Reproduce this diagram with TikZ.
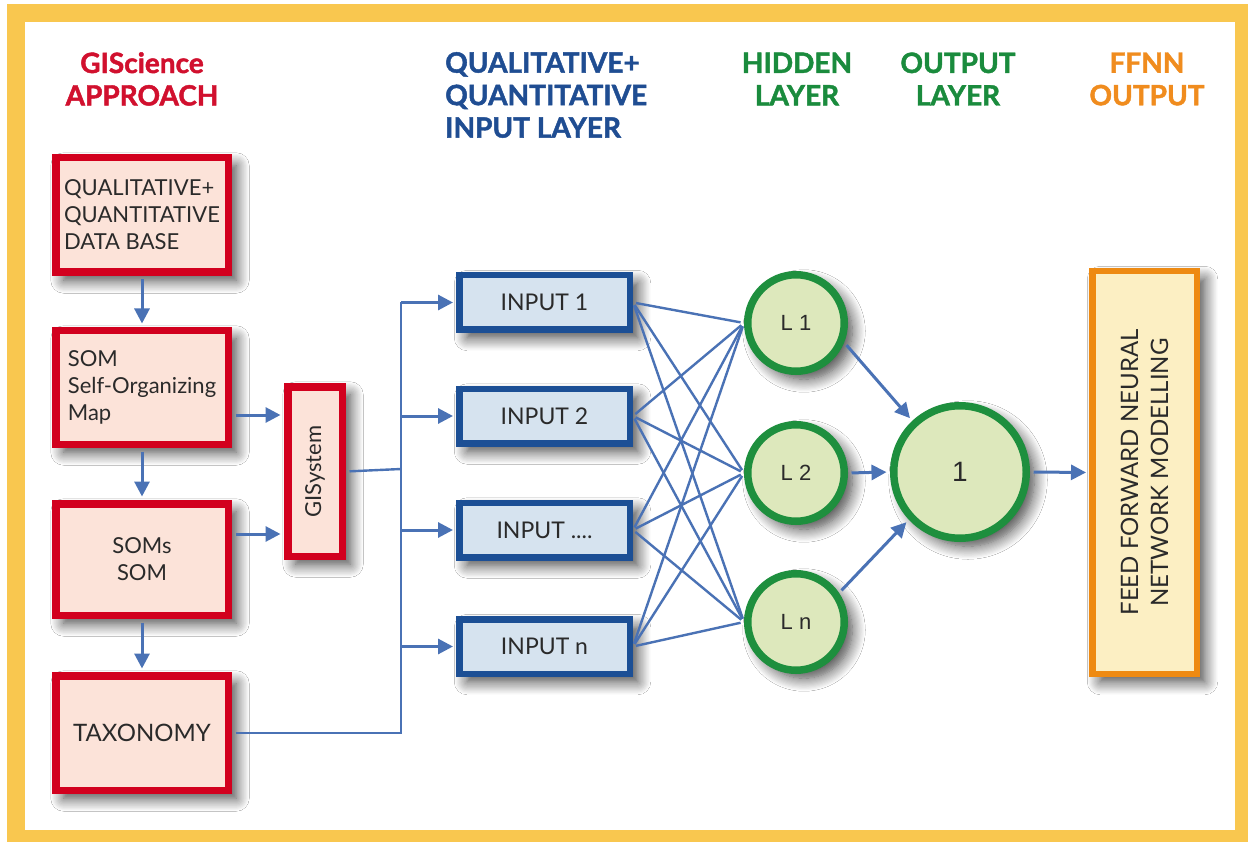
\documentclass[tikz,border=0pt]{standalone}
\usepackage{fontspec}
\setmainfont{Lato}
\newfontfamily\hdrfont{Lato}[BoldFeatures={FakeBold=1.6}]
\newfontfamily\arialfont{Liberation Sans}
\usetikzlibrary{arrows.meta,shadows.blur,calc}

\definecolor{framey}{HTML}{F9C74F}
\definecolor{redc}{HTML}{D2001E}
\definecolor{redfill}{HTML}{FCE3D9}
\definecolor{inblue}{HTML}{1C4F95}
\definecolor{infill}{HTML}{D6E3EF}
\definecolor{arrc}{HTML}{4A72B5}
\definecolor{grn}{HTML}{1E8F3E}
\definecolor{grnfill}{HTML}{DDE8BC}
\definecolor{orng}{HTML}{EE8A12}
\definecolor{orfill}{HTML}{FCEFC3}
\definecolor{txt}{HTML}{2A2A2A}
\definecolor{hred}{HTML}{D1102E}
\definecolor{hblue}{HTML}{1F4D92}
\definecolor{hgreen}{HTML}{1A8B3D}
\definecolor{horange}{HTML}{F08C1E}

\begin{document}
\begin{tikzpicture}[x=1pt,y=-1pt,
  softshadow/.style={blur shadow={shadow xshift=8pt,shadow yshift=-8pt,
      shadow blur radius=13pt,shadow blur steps=12,shadow opacity=75}},
  bodyfont/.style={font=\fontsize{22}{27}\selectfont, text=txt},
  hdr/.style={font=\hdrfont\bfseries\fontsize{28}{32.5}\selectfont, inner sep=0pt},
  redbox/.style={draw=redc, line width=7.5pt, fill=redfill, inner sep=0pt,
      minimum width=172.5pt, minimum height=114.5pt, softshadow, bodyfont},
  inbox/.style={draw=inblue, line width=6.5pt, fill=infill, inner sep=0pt,
      minimum width=170.5pt, minimum height=54.5pt, softshadow, bodyfont,
      font=\fontsize{23}{27}\selectfont},
  hidden/.style={circle, draw=grn, line width=7.5pt, fill=grnfill, inner sep=0pt,
      minimum size=96.5pt, softshadow, text=txt,
      font=\arialfont\fontsize{22}{26}\selectfont},
  outbox/.style={draw=orng, line width=6.5pt, fill=orfill, inner sep=0pt,
      minimum width=104.5pt, minimum height=402.5pt, softshadow},
  arr/.style={draw=arrc, line width=3pt, -{Triangle[length=15pt,width=15pt]}},
  wire/.style={draw=arrc, line width=2.4pt}
]
% page and yellow frame
\useasboundingbox (0,0) rectangle (1248,842);
\fill[white] (0,0) rectangle (1248,842);
\fill[framey] (7,4) rectangle (1248,842);
\fill[white] (25,22) rectangle (1235,830);

% column headings
\node[hdr, text=hred, align=center] (hgis) at (142,79) {GIScience\\APPROACH};
\node[hdr, text=hblue, align=left, anchor=west] (hin) at (445,95)
  {QUALITATIVE+\\QUANTITATIVE\\INPUT LAYER};
\node[hdr, text=hgreen, align=center] (hhid) at (797,79) {HIDDEN\\LAYER};
\node[hdr, text=hgreen, align=center] (hout) at (958,79) {OUTPUT\\LAYER};
\node[hdr, text=horange, align=center] (hffnn) at (1147,79) {FFNN\\OUTPUT};

% GIScience chain
\node[redbox, align=left] (db) at (142,215) {QUALITATIVE+\\QUANTITATIVE\\DATA BASE};
\node[redbox, align=left, minimum height=113.5pt] (som) at (142,387.5)
  {SOM\\Self-Organizing\\Map};
\node[redbox, align=center, minimum height=111.5pt] (soms) at (142,559.5) {SOMs\\SOM};
\node[redbox, font=\fontsize{24}{28}\selectfont] (tax) at (142,733) {TAXONOMY};
\node[redbox, minimum width=54.5pt, minimum height=169.5pt] (gis) at (315,471.5) {};
\node[bodyfont, rotate=90] (gislabel) at (gis.center) {GISystem};

% input layer
\node[inbox] (in1) at (544.5,302.5) {INPUT 1};
\node[inbox] (in2) at (544.5,416) {INPUT 2};
\node[inbox] (in3) at (544.5,530) {INPUT ....};
\node[inbox] (in4) at (544.5,646.5) {INPUT n};

% hidden and output layers
\node[hidden] (l1) at (796,323) {L 1};
\node[hidden] (l2) at (796,473) {L 2};
\node[hidden] (l3) at (796,622) {L n};
\node[hidden, minimum size=132.5pt, font=\arialfont\fontsize{28}{32}\selectfont] (out) at (960,472) {1};

% model output
\node[outbox] (ffnn) at (1144.5,472.5) {};
\node[rotate=90, align=center, text=txt, font=\fontsize{24}{30}\selectfont] (ffnnlabel)
  at (ffnn.center) {FEED FORWARD NEURAL\\NETWORK MODELLING};

% bus between GIS side and inputs
\coordinate (bus) at (401,469);
\coordinate (bustop) at (401,302.5);
\coordinate (busbot) at (401,733);

% chain arrows
\draw[arr, shorten <=3.5pt, shorten >=3.5pt] (db.south) -- (som.north);
\draw[arr, shorten <=3.5pt, shorten >=3.5pt] (som.south) -- (soms.north);
\draw[arr, shorten <=3.5pt, shorten >=3.5pt] (soms.south) -- (tax.north);
\draw[arr, shorten <=3.5pt, shorten >=3.5pt] (som.east |- 0,415) -- (gis.west |- 0,415);
\draw[arr, shorten <=3.5pt, shorten >=3.5pt] (soms.east |- 0,534) -- (gis.west |- 0,534);

% feed lines to the inputs
\draw[wire, shorten <=3.5pt] (gis.east) -- (bus);
\draw[wire, shorten <=3.5pt] (tax.east) -- (busbot) -- (bustop);
\draw[arr, shorten >=3pt] (bustop) -- (in1.west);
\draw[arr, shorten >=3pt] (in2.west -| bus) -- (in2.west);
\draw[arr, shorten >=3pt] (in3.west -| bus) -- (in3.west);
\draw[arr, shorten >=3pt] (in4.west -| bus) -- (in4.west);

% fully connected input -> hidden
\foreach \i in {in1,in2,in3,in4}
  \foreach \h in {l1,l2,l3}
    \draw[wire, shorten <=3pt, shorten >=3.5pt] (\i.east) -- (\h.west);

% hidden -> output -> model
\draw[arr, shorten <=3.5pt, shorten >=3.5pt] (l1.-22) -- (out.133);
\draw[arr, shorten <=3.5pt, shorten >=3.5pt] (l2.east) -- (out.west);
\draw[arr, shorten <=3.5pt, shorten >=3.5pt] (l3.34) -- (out.-137);
\draw[arr, shorten <=3.5pt, shorten >=3pt] (out.east) -- (ffnn.west);
\end{tikzpicture}
\end{document}
